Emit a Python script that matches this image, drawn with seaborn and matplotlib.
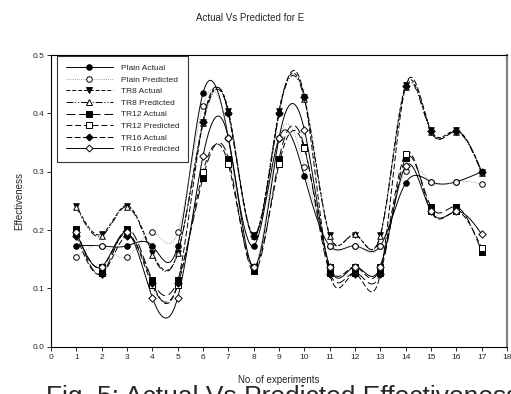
import matplotlib
matplotlib.use("Agg")
import matplotlib.pyplot as plt
from matplotlib.lines import Line2D
import seaborn as sns
import pandas as pd
import numpy as np

# experiment numbers
experiments = list(range(1, 18))

# effectiveness values
plain_actual = [0.173, 0.173, 0.173, 0.173, 0.173, 0.435, 0.358, 0.173, 0.358,
                0.292, 0.173, 0.173, 0.173, 0.281, 0.283, 0.283, 0.300]
plain_pred = [0.154, 0.173, 0.154, 0.196, 0.196, 0.413, 0.358, 0.135, 0.358,
              0.309, 0.173, 0.173, 0.173, 0.301, 0.283, 0.283, 0.279]
tr8_actual = [0.242, 0.193, 0.242, 0.161, 0.161, 0.386, 0.405, 0.192, 0.405,
              0.429, 0.192, 0.192, 0.192, 0.449, 0.371, 0.371, 0.300]
tr8_pred = [0.240, 0.190, 0.240, 0.158, 0.160, 0.383, 0.402, 0.190, 0.402,
            0.425, 0.190, 0.193, 0.190, 0.445, 0.368, 0.369, 0.298]
tr12_actual = [0.202, 0.126, 0.202, 0.114, 0.114, 0.290, 0.322, 0.129, 0.322,
               0.343, 0.127, 0.127, 0.127, 0.323, 0.240, 0.240, 0.163]
tr12_pred = [0.195, 0.137, 0.195, 0.105, 0.105, 0.300, 0.313, 0.137, 0.313,
             0.340, 0.137, 0.137, 0.137, 0.331, 0.232, 0.232, 0.169]
tr16_actual = [0.190, 0.125, 0.190, 0.110, 0.110, 0.386, 0.400, 0.190, 0.400,
               0.429, 0.125, 0.125, 0.125, 0.447, 0.370, 0.370, 0.300]
tr16_pred = [0.196, 0.137, 0.196, 0.084, 0.084, 0.327, 0.358, 0.137, 0.358,
             0.372, 0.137, 0.137, 0.137, 0.310, 0.232, 0.232, 0.193]

series_names = ['Plain Actual', 'Plain Predicted', 'TR8 Actual', 'TR8 Predicted',
                'TR12 Actual', 'TR12 Predicted', 'TR16 Actual', 'TR16 Predicted']
series_values = [plain_actual, plain_pred, tr8_actual, tr8_pred,
                 tr12_actual, tr12_pred, tr16_actual, tr16_pred]

# line style, marker, filled?
styles = {
    'Plain Actual': ('-', 'o', True),
    'Plain Predicted': ((0, (1, 1.5)), 'o', False),
    'TR8 Actual': ((0, (4, 2)), 'v', True),
    'TR8 Predicted': ((0, (7, 2, 1, 2, 1, 2)), '^', False),
    'TR12 Actual': ((0, (9, 4)), 's', True),
    'TR12 Predicted': ((0, (6, 3)), 's', False),
    'TR16 Actual': ((0, (6, 2.5)), 'D', True),
    'TR16 Predicted': ('-', 'D', False),
}


def natural_spline(x, y, n=25):
    # smooth curve through the points, like the original spline plot
    x = np.asarray(x, float)
    y = np.asarray(y, float)
    k = len(x)
    h = np.diff(x)
    A = np.zeros((k, k))
    b = np.zeros(k)
    A[0, 0] = A[-1, -1] = 1
    for i in range(1, k - 1):
        A[i, i - 1] = h[i - 1]
        A[i, i] = 2 * (h[i - 1] + h[i])
        A[i, i + 1] = h[i]
        b[i] = 6 * ((y[i + 1] - y[i]) / h[i] - (y[i] - y[i - 1]) / h[i - 1])
    M = np.linalg.solve(A, b)
    xs, ys = [], []
    for i in range(k - 1):
        t = np.linspace(x[i], x[i + 1], n, endpoint=False)
        a = x[i + 1] - t
        c = t - x[i]
        s = (M[i] * a ** 3 + M[i + 1] * c ** 3) / (6 * h[i]) \
            + (y[i] / h[i] - M[i] * h[i] / 6) * a \
            + (y[i + 1] / h[i] - M[i + 1] * h[i] / 6) * c
        xs.append(t)
        ys.append(s)
    xs.append([x[-1]])
    ys.append([y[-1]])
    return np.concatenate(xs), np.concatenate(ys)


sns.set_style('ticks')
plt.rcParams['font.family'] = ['Liberation Sans', 'DejaVu Sans']

fig = plt.figure(figsize=(5.11, 3.94), dpi=100)
ax = fig.add_axes([0.0998, 0.12, 0.8925, 0.74])

handles = []
for name, vals in zip(series_names, series_values):
    ls, mk, filled = styles[name]
    xs, ys = natural_spline(experiments, vals)
    lw = 0.7 if name != 'Plain Predicted' else 0.6
    col = 'black' if name != 'Plain Predicted' else '#888888'
    sns.lineplot(x=xs, y=ys, ax=ax, color=col, linewidth=lw, linestyle=ls,
                 sort=False, estimator=None, zorder=2)
    msize = 16 if mk != 'D' else 14
    sns.scatterplot(x=experiments, y=vals, ax=ax, marker=mk, s=msize,
                    color='black' if filled else 'white', edgecolor='black',
                    linewidth=0.7, zorder=3)
    handles.append(Line2D([0], [0], color=col, lw=lw, linestyle=ls, marker=mk,
                          markersize=4 if mk != 'D' else 3.5,
                          markerfacecolor='black' if filled else 'white',
                          markeredgecolor='black', markeredgewidth=0.7))

ax.set_xlim(0, 18)
ax.set_ylim(0, 0.5)
ax.set_xticks(range(0, 19))
ax.set_yticks([0.0, 0.1, 0.2, 0.3, 0.4, 0.5])
ax.set_yticklabels(['0.0', '0.1', '0.2', '0.3', '0.4', '0.5'])
ax.tick_params(labelsize=6, length=3, width=0.7, direction='out', pad=2)
for sp in ax.spines.values():
    sp.set_linewidth(0.8)
    sp.set_color('black')
ax.spines['right'].set_color('#808080')
ax.spines['right'].set_linewidth(1.6)

ax.set_xlabel('No. of experiments', fontsize=7, labelpad=10)
ax.set_ylabel('Effectiveness', fontsize=7, labelpad=6)
fig.text(0.49, 0.955, 'Actual Vs Predicted for E', fontsize=7, ha='center', va='center')

leg = ax.legend(handles=handles, labels=series_names, loc='upper left',
                bbox_to_anchor=(0.012, 1.0), fontsize=6, frameon=True,
                fancybox=False, edgecolor='black', handlelength=5.7,
                handletextpad=1.0, labelspacing=0.45, borderpad=1.0,
                borderaxespad=0.1)
leg.get_frame().set_linewidth(0.8)

# figure caption from the source page, cut by the bottom edge
fig.text(0.09, 0.022, 'Fig. 5: Actual Vs Predicted Effectiveness', fontsize=19,
         ha='left', va='top')

fig.savefig('out.png', dpi=100)
